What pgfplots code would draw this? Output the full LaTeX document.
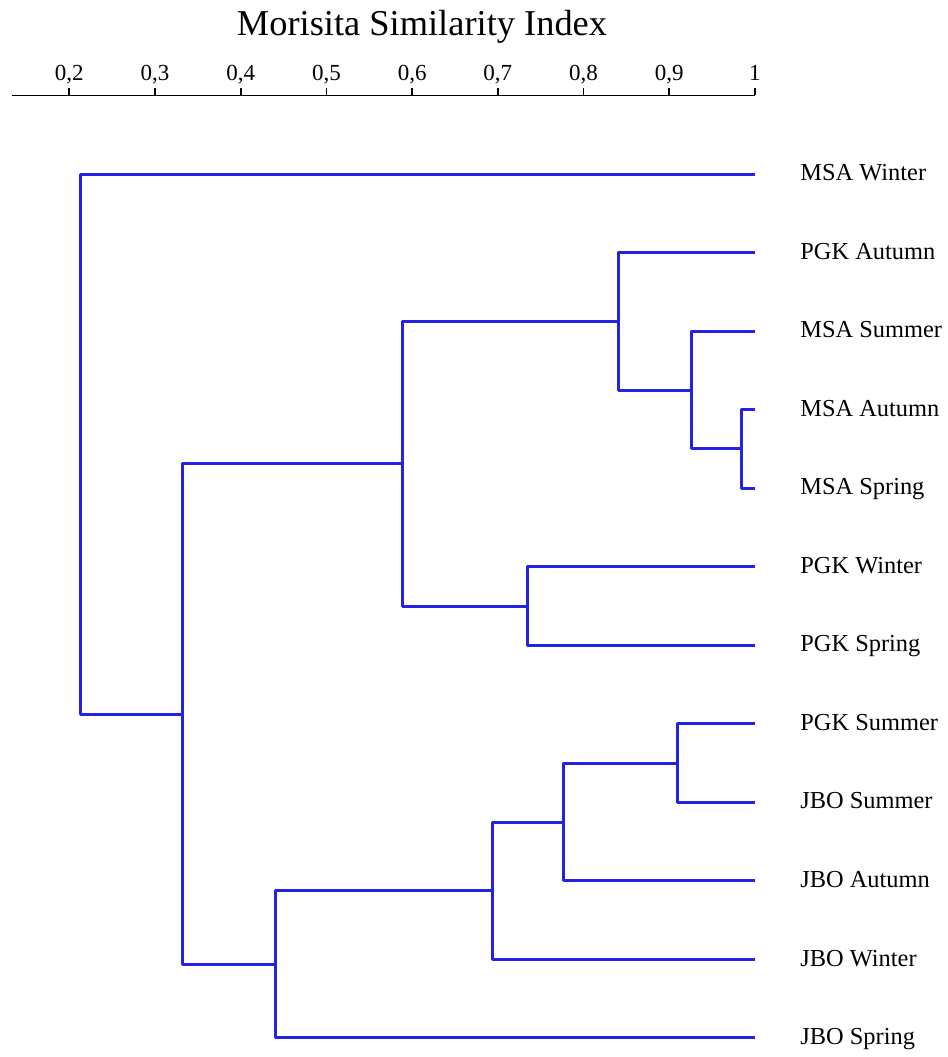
\documentclass[border=0pt]{standalone}
\usepackage{pgfplots}
\pgfplotsset{compat=1.18}
\usepackage{fontspec}
\setmainfont{Liberation Serif}
\definecolor{dendro}{RGB}{35,35,225}
\begin{document}
\begin{tikzpicture}
\begin{axis}[
  at={(0,0)}, anchor=south west,
  scale only axis, width=371.65pt, height=471.25pt,
  xmin=0.1328, xmax=1, ymin=-12, ymax=0,
  axis x line=top, axis y line=right,
  axis line style={-, line width=0.9pt, black},
  y axis line style={draw=none},
  xtick={0.2,0.3,0.4,0.5,0.6,0.7,0.8,0.9,1},
  xticklabels={{0,2},{0,3},{0,4},{0,5},{0,6},{0,7},{0,8},{0,9},1},
  x tick style={black, line width=0.9pt},
  tick align=outside, major tick length=3.5pt,
  xticklabel style={font=\fontsize{11.5}{13}\selectfont, anchor=base, inner sep=0pt, yshift=4pt},
  ytick={-1,-2,...,-12},
  yticklabels={MSA Winter,PGK Autumn,MSA Summer,MSA Autumn,MSA Spring,PGK Winter,PGK Spring,PGK Summer,JBO Summer,JBO Autumn,JBO Winter,JBO Spring},
  y tick style={draw=none},
  yticklabel style={font=\fontsize{12.2}{14}\selectfont, anchor=west, inner sep=0pt, text height=0.66em, text depth=0pt, xshift=19pt},
  clip=false,
]
\addplot[dendro, line width=1.5pt, line join=round] coordinates {(1,-4) (0.984,-4) (0.984,-5) (1,-5)};
\addplot[dendro, line width=1.5pt, line join=round] coordinates {(1,-3) (0.926,-3) (0.926,-4.5) (0.984,-4.5)};
\addplot[dendro, line width=1.5pt, line join=round] coordinates {(1,-2) (0.841,-2) (0.841,-3.75) (0.926,-3.75)};
\addplot[dendro, line width=1.5pt, line join=round] coordinates {(1,-6) (0.735,-6) (0.735,-7) (1,-7)};
\addplot[dendro, line width=1.5pt, line join=round] coordinates {(0.841,-2.875) (0.589,-2.875) (0.589,-6.5) (0.735,-6.5)};
\addplot[dendro, line width=1.5pt, line join=round] coordinates {(1,-8) (0.910,-8) (0.910,-9) (1,-9)};
\addplot[dendro, line width=1.5pt, line join=round] coordinates {(0.910,-8.5) (0.777,-8.5) (0.777,-10) (1,-10)};
\addplot[dendro, line width=1.5pt, line join=round] coordinates {(0.777,-9.25) (0.694,-9.25) (0.694,-11) (1,-11)};
\addplot[dendro, line width=1.5pt, line join=round] coordinates {(0.694,-10.125) (0.441,-10.125) (0.441,-12) (1,-12)};
\addplot[dendro, line width=1.5pt, line join=round] coordinates {(0.589,-4.6875) (0.3315,-4.6875) (0.3315,-11.0625) (0.441,-11.0625)};
\addplot[dendro, line width=1.5pt, line join=round] coordinates {(1,-1) (0.2133,-1) (0.2133,-7.875) (0.3315,-7.875)};
\node[font=\fontsize{18.2}{21}\selectfont, anchor=base, yshift=29.85pt] at (rel axis cs:0.552,1) {Morisita Similarity Index};
\end{axis}
\path (-5.85pt,-9.5pt) rectangle (468.15pt,519pt);
\end{tikzpicture}
\end{document}
